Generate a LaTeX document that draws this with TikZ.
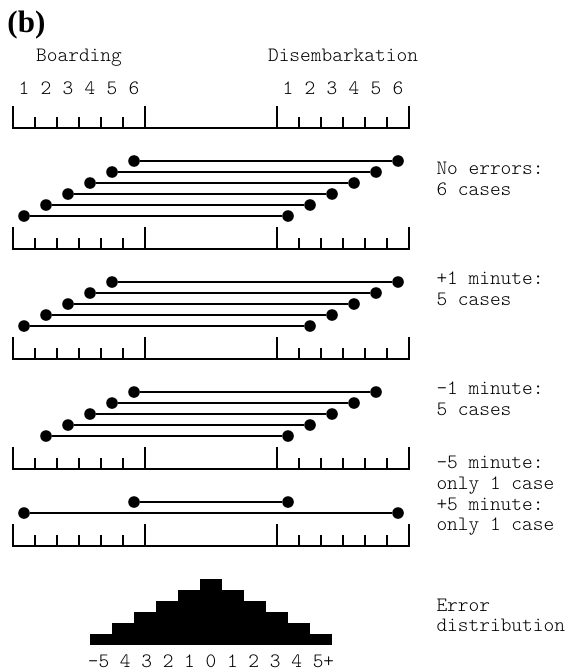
\documentclass[tikz,border=0pt]{standalone}
\usepackage{fontspec}
\setmainfont{Liberation Serif}
\newfontfamily\courierfont{Latin Modern Mono Light}
\newcommand{\monotext}{\courierfont\fontsize{10.2}{10.3}\selectfont}

\begin{document}
\begin{tikzpicture}[x=11pt, y=11pt, line join=miter,
  ruler/.style={line width=0.6pt},
  trip/.style={line width=1.1pt},
  dot/.style={circle, fill=black, inner sep=0pt, minimum size=5.8pt},
  seat/.style={font=\monotext, anchor=base},
  caption/.style={font=\monotext, align=left, anchor=base west, inner sep=0pt}]
  \useasboundingbox (-0.591, -24.68) rectangle (25.136, 5.818);

  % Panel letter
  \node[font=\bfseries\fontsize{15.5}{18}\selectfont, anchor=base west, inner sep=0pt] (panel) at (-0.27, 4.32) {(b)};

  % Headings and seat numbers
  \node[seat] (board) at (3, 3) {Boarding};
  \node[seat] (disemb) at (15, 3) {Disembarkation};
  \foreach \n in {1,...,6} {
    \node[seat] (b\n) at (\n-0.5, 1.5) {\n};
    \node[seat] (d\n) at (11.5+\n, 1.5) {\n};
  }

  % Rulers
  \foreach \y in {0, -5.5, -10.5, -15.5, -19} {
    \draw[ruler] (0, \y+1) -- (0, \y) -- (18, \y) -- (18, \y+1);
    \draw[ruler] (6, \y) -- ++(0, 1);
    \draw[ruler] (12, \y) -- ++(0, 1);
    \foreach \x in {1,...,5} {
      \draw[ruler] (\x, \y) -- ++(0, 0.5);
      \draw[ruler] (12+\x, \y) -- ++(0, 0.5);
    }
  }

  % No errors: seat i to seat i
  \foreach \i in {1,...,6} {
    \node[dot] (s1b\i) at (\i-0.5, -4.5+0.5*\i) {};
    \node[dot] (s1d\i) at (11.5+\i, -4.5+0.5*\i) {};
    \draw[trip] (s1b\i) -- (s1d\i);
  }
  \node[caption] (cap1) at (19.23, -3.05) {No errors:\\6 cases};

  % +1 minute: seat i to seat i+1
  \foreach \i [evaluate=\i as \j using int(\i+1)] in {1,...,5} {
    \node[dot] (s2b\i) at (\i-0.5, -9.5+0.5*\i) {};
    \node[dot] (s2d\i) at (11.5+\j, -9.5+0.5*\i) {};
    \draw[trip] (s2b\i) -- (s2d\i);
  }
  \node[caption] (cap2) at (19.23, -8.05) {+1 minute:\\5 cases};

  % -1 minute: seat i+1 to seat i
  \foreach \i [evaluate=\i as \j using int(\i+1)] in {1,...,5} {
    \node[dot] (s3b\i) at (\j-0.5, -14.5+0.5*\i) {};
    \node[dot] (s3d\i) at (11.5+\i, -14.5+0.5*\i) {};
    \draw[trip] (s3b\i) -- (s3d\i);
  }
  \node[caption] (cap3) at (19.23, -13.05) {-1 minute:\\5 cases};

  % -5 and +5 minutes
  \node[dot] (s4b1) at (0.5, -17.5) {};
  \node[dot] (s4d6) at (17.5, -17.5) {};
  \node[dot] (s4b6) at (5.5, -17) {};
  \node[dot] (s4d1) at (12.5, -17) {};
  \draw[trip] (s4b1) -- (s4d6);
  \draw[trip] (s4b6) -- (s4d1);
  \node[caption] (cap4) at (19.23, -18.3) {-5 minute:\\only 1 case\\+5 minute:\\only 1 case};

  % Error distribution
  \foreach \h [count=\i from 0] in {1,2,3,4,5,6,5,4,3,2,1}
    \fill (3.5+\i, -23.5) rectangle ++(1, 0.5*\h);
  \node[seat] (errs) at (9, -24.5) {-5 4 3 2 1 0 1 2 3 4 5+};
  \node[caption] (cap5) at (19.23, -22.9) {Error\\distribution};
\end{tikzpicture}
\end{document}
